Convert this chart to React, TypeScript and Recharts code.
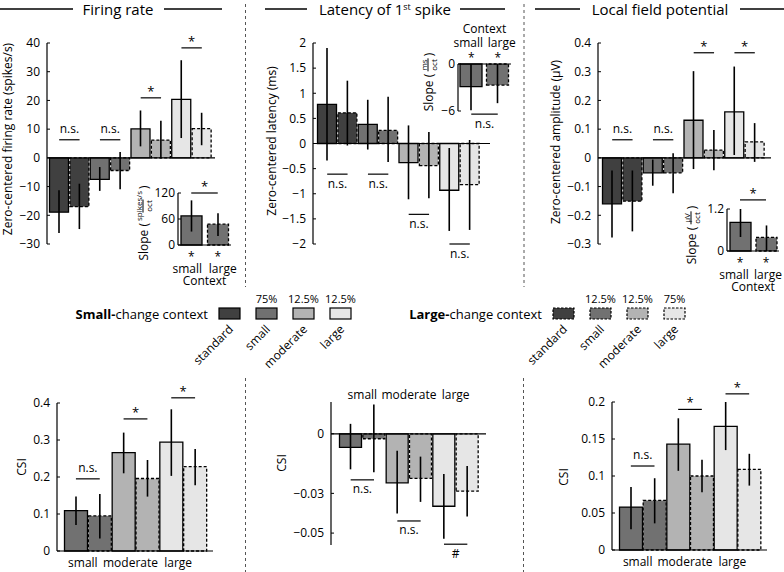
import React from 'react';
import { BarChart, Bar, XAxis, YAxis, ErrorBar, Cell, ReferenceLine } from 'recharts';

// conditions and colours
const conditions = ['standard', 'small', 'moderate', 'large'];
const deviants = ['small', 'moderate', 'large'];
const contexts = ['small', 'large'];
const fills = ['#404040', '#717171', '#b3b3b3', '#e6e6e6'];
const smallPct = ['', '75%', '12.5%', '12.5%'];
const largePct = ['', '12.5%', '12.5%', '75%'];

// firing rate (spikes/s)
const frSmall = [-18.9, -7.5, 10.1, 20.4];
const frSmallLo = [-26.2, -11.5, 4.0, 6.9];
const frSmallHi = [-11.3, -3.2, 16.5, 34.0];
const frLarge = [-17.0, -4.4, 6.2, 10.2];
const frLargeLo = [-24.8, -10.9, -0.2, 4.4];
const frLargeHi = [-9.0, 2.0, 12.9, 15.7];
const frTicks = [-30, -20, -10, 0, 10, 20, 30, 40];

// latency of 1st spike (ms)
const latSmall = [0.78, 0.38, -0.38, -0.93];
const latSmallLo = [-0.34, -0.12, -1.11, -1.74];
const latSmallHi = [1.9, 0.87, 0.36, -0.09];
const latLarge = [0.61, 0.26, -0.44, -0.82];
const latLargeLo = [-0.04, -0.37, -1.09, -1.72];
const latLargeHi = [1.25, 0.93, 0.23, 0.07];
const latTicks = [-2, -1.5, -1, -0.5, 0, 0.5, 1, 1.5, 2];

// local field potential (uV)
const lfpSmall = [-0.16, -0.052, 0.131, 0.16];
const lfpSmallLo = [-0.277, -0.097, -0.039, 0.01];
const lfpSmallHi = [-0.044, -0.006, 0.302, 0.318];
const lfpLarge = [-0.151, -0.052, 0.027, 0.056];
const lfpLargeLo = [-0.256, -0.123, -0.043, -0.014];
const lfpLargeHi = [-0.044, 0.016, 0.097, 0.121];
const lfpTicks = [-0.3, -0.2, -0.1, 0, 0.1, 0.2, 0.3, 0.4];

// slopes (small, large context)
const frSlope = [67, 48];
const frSlopeLo = [31, 21];
const frSlopeHi = [103, 73];
const latSlope = [-2.9, -2.7];
const latSlopeLo = [-5.9, -5.0];
const latSlopeHi = [0, 0];
const lfpSlope = [0.82, 0.39];
const lfpSlopeLo = [0.4, 0];
const lfpSlopeHi = [1.2, 0.73];

// CSI
const csiFrSmall = [0.109, 0.266, 0.294];
const csiFrSmallLo = [0.07, 0.21, 0.203];
const csiFrSmallHi = [0.147, 0.32, 0.383];
const csiFrLarge = [0.095, 0.196, 0.228];
const csiFrLargeLo = [0.034, 0.147, 0.178];
const csiFrLargeHi = [0.154, 0.246, 0.276];
const csiLatSmall = [-0.0068, -0.0247, -0.0365];
const csiLatSmallLo = [-0.0179, -0.0402, -0.0529];
const csiLatSmallHi = [0.005, -0.0086, -0.0203];
const csiLatLarge = [-0.0025, -0.0225, -0.0289];
const csiLatLargeLo = [-0.0194, -0.0343, -0.0416];
const csiLatLargeHi = [0.0147, -0.0115, -0.0162];
const csiLfpSmall = [0.058, 0.143, 0.167];
const csiLfpSmallLo = [0.028, 0.107, 0.135];
const csiLfpSmallHi = [0.085, 0.178, 0.2];
const csiLfpLarge = [0.067, 0.1, 0.109];
const csiLfpLargeLo = [0.036, 0.078, 0.087];
const csiLfpLargeHi = [0.097, 0.122, 0.13];
const csiLatTicks = [-0.05, -0.03, 0];

// significance marks: group index, level, text
type Sig = { g: number; y: number; t: string; below?: boolean };
const frSig: Sig[] = [{ g: 0, y: 6.3, t: 'n.s.' }, { g: 1, y: 6.3, t: 'n.s.' }, { g: 2, y: 20.9, t: '*' }, { g: 3, y: 38.3, t: '*' }];
const latSig: Sig[] = [{ g: 0, y: -0.61, t: 'n.s.', below: true }, { g: 1, y: -0.61, t: 'n.s.', below: true }, { g: 2, y: -1.41, t: 'n.s.', below: true }, { g: 3, y: -2.0, t: 'n.s.', below: true }];
const lfpSig: Sig[] = [{ g: 0, y: 0.063, t: 'n.s.' }, { g: 1, y: 0.063, t: 'n.s.' }, { g: 2, y: 0.366, t: '*' }, { g: 3, y: 0.366, t: '*' }];
const csiFrSig: Sig[] = [{ g: 0, y: 0.195, t: 'n.s.' }, { g: 1, y: 0.357, t: '*' }, { g: 2, y: 0.414, t: '*' }];
const csiLatSig: Sig[] = [{ g: 0, y: -0.0232, t: 'n.s.', below: true }, { g: 1, y: -0.0439, t: 'n.s.', below: true }, { g: 2, y: -0.0556, t: '#', below: true }];
const csiLfpSig: Sig[] = [{ g: 0, y: 0.1135, t: 'n.s.' }, { g: 1, y: 0.19, t: '*' }, { g: 2, y: 0.211, t: '*' }];
const frSlopeSig: Sig = { g: 0, y: 120, t: '*' };
const latSlopeSig: Sig = { g: 0, y: -6.4, t: 'n.s.', below: true };
const lfpSlopeSig: Sig = { g: 0, y: 1.46, t: '*' };

const minus = (v: number) => (v < 0 ? '\u2212' + Math.abs(v) : String(v));

// one row per bar: small-change context then large-change context for each condition
const barRows = (names: string[], sv: number[], slo: number[], shi: number[], lv: number[], llo: number[], lhi: number[]) =>
  names.flatMap((name, i) => [
    { name: name + '|small', group: name, v: sv[i], err: [sv[i] - slo[i], shi[i] - sv[i]] },
    { name: name + '|large', group: name, v: lv[i], err: [lv[i] - llo[i], lhi[i] - lv[i]] },
  ]);

const slopeRows = (v: number[], lo: number[], hi: number[]) =>
  contexts.map((name, i) => ({ name, v: v[i], err: [v[i] - lo[i], hi[i] - v[i]] }));

const sigLabel = (s: Sig) => ({
  value: s.t,
  position: s.below ? 'bottom' : 'top',
  offset: s.t === '*' ? 2 : s.below ? 5 : 7,
  fill: '#000',
  fontSize: s.t === '*' ? 13 : 12,
});

const AX = { stroke: '#000', strokeWidth: 1.2 };

function GroupTick({ x, y, payload, index, half, dx, top }: any) {
  if (index % 2) return <g />;
  const label = String(payload.value).split('|')[0];
  return (
    <text x={x + half + dx} y={y} dy={top ? 0 : '0.71em'} textAnchor="middle" fontSize={12} fill="#000">
      {label}
    </text>
  );
}

function GroupPanel({ rows, colors, domain, ticks, sig, left, top, width, height, margin, pad, axis, dx = 0 }: any) {
  const plotW = width - margin.left - margin.right - 40;
  const band = (plotW - pad[0] - pad[1]) / rows.length;
  return (
    <div style={{ position: 'absolute', left, top }}>
      <BarChart width={width} height={height} data={rows} margin={margin} barCategoryGap={0.5}>
        <XAxis
          xAxisId="c"
          dataKey="name"
          hide={!axis}
          orientation={axis === 'top' ? 'top' : 'bottom'}
          height={20}
          padding={{ left: pad[0], right: pad[1] }}
          axisLine={axis === 'bottom' ? AX : false}
          tickLine={false}
          tickSize={0}
          tickMargin={axis === 'top' ? 3 : 7}
          tick={(p: any) => <GroupTick {...p} half={band / 2} dx={dx} top={axis === 'top'} />}
          interval={0}
        />
        <YAxis
          type="number"
          domain={domain}
          ticks={ticks}
          interval={0}
          width={40}
          axisLine={AX}
          tickLine={{ stroke: '#000' }}
          tickSize={-3}
          tickMargin={10}
          tick={{ fill: '#000', fontSize: 12 }}
          tickFormatter={minus}
        />
        {axis !== 'bottom' && <ReferenceLine xAxisId="c" y={0} stroke="#000" strokeWidth={1.2} />}
        <Bar xAxisId="c" dataKey="v" stroke="#000" strokeWidth={1.3} isAnimationActive={false}>
          {rows.map((r: any, i: number) => (
            <Cell key={r.name} fill={colors[Math.floor(i / 2)]} strokeDasharray={i % 2 ? '3 2' : undefined} />
          ))}
          <ErrorBar dataKey="err" width={0} stroke="#000" strokeWidth={1.6} direction="y" />
        </Bar>
        {sig.map((s: Sig, i: number) => (
          <ReferenceLine
            key={'sig' + i}
            xAxisId="c"
            segment={[{ x: rows[2 * s.g].name, y: s.y }, { x: rows[2 * s.g + 1].name, y: s.y }]}
            stroke="#000"
            strokeWidth={1.2}
            ifOverflow="visible"
            label={sigLabel(s) as any}
          />
        ))}
      </BarChart>
    </div>
  );
}

function InsetTick({ x, y, payload, index, top, spread }: any) {
  const tx = x + (index === 0 ? -spread[0] : spread[1]);
  return (
    <g>
      <text x={x} y={top ? y - 2 : y + 16} textAnchor="middle" fontSize={12} fill="#000">*</text>
      <text x={tx} y={top ? y - 17 : y + 28} textAnchor="middle" fontSize={12} fill="#000">{payload.value}</text>
    </g>
  );
}

function SlopeInset({ rows, domain, ticks, sig, left, top, width, height, margin, barSize, xTop, spread }: any) {
  return (
    <div style={{ position: 'absolute', left, top }}>
      <BarChart width={width} height={height} data={rows} margin={margin}>
        <XAxis
          xAxisId="c"
          dataKey="name"
          orientation={xTop ? 'top' : 'bottom'}
          height={40}
          axisLine={AX}
          tickLine={false}
          tickSize={0}
          tickMargin={0}
          interval={0}
          tick={(p: any) => <InsetTick {...p} top={xTop} spread={spread} />}
          label={{ value: 'Context', position: xTop ? 'insideTop' : 'insideBottom', offset: 0, fill: '#000', fontSize: 12 }}
        />
        <YAxis
          type="number"
          domain={domain}
          ticks={ticks}
          interval={0}
          width={24}
          axisLine={AX}
          tickLine={{ stroke: '#000' }}
          tickSize={-3}
          tickMargin={6}
          tick={{ fill: '#000', fontSize: 12 }}
          tickFormatter={minus}
        />
        <Bar xAxisId="c" dataKey="v" barSize={barSize} stroke="#000" strokeWidth={1.3} isAnimationActive={false}>
          {rows.map((r: any, i: number) => (
            <Cell key={r.name} fill={fills[1]} strokeDasharray={i === 1 ? '3 2' : undefined} />
          ))}
          <ErrorBar dataKey="err" width={0} stroke="#000" strokeWidth={1.6} direction="y" />
        </Bar>
        <ReferenceLine
          xAxisId="c"
          segment={[{ x: contexts[0], y: sig.y }, { x: contexts[1], y: sig.y }]}
          stroke="#000"
          strokeWidth={1.2}
          ifOverflow="visible"
          label={sigLabel(sig) as any}
        />
      </BarChart>
    </div>
  );
}

function SlopeLabel({ x, y, num }: any) {
  return (
    <div
      style={{
        position: 'absolute',
        left: x,
        top: y,
        transform: 'translate(-50%, -50%) rotate(-90deg)',
        whiteSpace: 'nowrap',
        fontSize: 12,
        display: 'flex',
        alignItems: 'center',
      }}
    >
      <span>Slope (</span>
      <span style={{ display: 'inline-flex', flexDirection: 'column', alignItems: 'center', fontSize: 8, lineHeight: '9px', margin: '0 2px' }}>
        <span>{num}</span>
        <span style={{ borderTop: '1px solid #000', padding: '0 1px' }}>oct</span>
      </span>
      <span>)</span>
    </div>
  );
}

const yLabels = [
  { text: 'Zero-centered firing rate (spikes/s)', x: 7, y: 139 },
  { text: 'Zero-centered latency (ms)', x: 271, y: 141 },
  { text: 'Zero-centered amplitude (\u00b5V)', x: 555, y: 142 },
  { text: 'CSI', x: 21, y: 467 },
  { text: 'CSI', x: 281, y: 463 },
  { text: 'CSI', x: 563, y: 477 },
];

function Decorations() {
  const dash = { stroke: '#555', strokeWidth: 1, strokeDasharray: '3 3' };
  const rule = { stroke: '#000', strokeWidth: 1.3 };
  return (
    <svg width={784} height={572} style={{ position: 'absolute', left: 0, top: 0 }}>
      <line x1={245.5} y1={4} x2={245.5} y2={287} {...dash} />
      <line x1={524} y1={4} x2={524} y2={287} {...dash} />
      <line x1={245.5} y1={378} x2={245.5} y2={572} {...dash} />
      <line x1={523.5} y1={378} x2={523.5} y2={572} {...dash} />

      <line x1={0} y1={9} x2={73} y2={9} {...rule} />
      <text x={118} y={14.5} textAnchor="middle" fontSize={15}>Firing rate</text>
      <line x1={164} y1={9} x2={222} y2={9} {...rule} />
      <line x1={265} y1={9} x2={307} y2={9} {...rule} />
      <text x={385} y={14.5} textAnchor="middle" fontSize={15}>
        Latency of 1<tspan dy={-5} fontSize={9}>st</tspan><tspan dy={5}> spike</tspan>
      </text>
      <line x1={460} y1={9} x2={505} y2={9} {...rule} />
      <line x1={535} y1={9} x2={580} y2={9} {...rule} />
      <text x={660} y={14.5} textAnchor="middle" fontSize={15}>Local field potential</text>
      <line x1={740} y1={9} x2={784} y2={9} {...rule} />

      {yLabels.map((l, i) => (
        <text key={i} x={l.x} y={l.y} transform={`rotate(-90 ${l.x} ${l.y})`} textAnchor="middle" dominantBaseline="central" fontSize={12}>
          {l.text}
        </text>
      ))}

      {[0, 1].map((k) => {
        const x0 = k === 0 ? 219 : 553;
        const pct = k === 0 ? smallPct : largePct;
        return (
          <g key={k}>
            <text x={x0 - 11} y={318.5} textAnchor="end" fontSize={13}>
              <tspan fontWeight="bold">{k === 0 ? 'Small-' : 'Large-'}</tspan>change context
            </text>
            {conditions.map((c, i) => {
              const bx = x0 + i * 37;
              return (
                <g key={c}>
                  <rect x={bx} y={308} width={21} height={11} fill={fills[i]} stroke="#000" strokeWidth={1.2} strokeDasharray={k ? '2.5 1.5' : undefined} />
                  {pct[i] && (
                    <text x={bx + 10.5} y={303} textAnchor="middle" fontSize={11}>{pct[i]}</text>
                  )}
                  <text x={bx + 15} y={330} transform={`rotate(-45 ${bx + 15} 330)`} textAnchor="end" fontSize={12}>{c}</text>
                </g>
              );
            })}
          </g>
        );
      })}
    </svg>
  );
}

export default function App() {
  return (
    <div style={{ position: 'absolute', left: 0, top: 0, width: 784, height: 572, background: '#fff', fontFamily: "'Open Sans', sans-serif", color: '#000' }}>
      <Decorations />
      <GroupPanel
        rows={barRows(conditions, frSmall, frSmallLo, frSmallHi, frLarge, frLargeLo, frLargeHi)}
        colors={fills}
        domain={[-30, 40]}
        ticks={frTicks}
        sig={frSig}
        left={0}
        top={20}
        width={232}
        height={250}
        margin={{ top: 23, right: 17, bottom: 26, left: 7 }}
        pad={[2, 3]}
      />
      <GroupPanel
        rows={barRows(conditions, latSmall, latSmallLo, latSmallHi, latLarge, latLargeLo, latLargeHi)}
        colors={fills}
        domain={[-2, 2]}
        ticks={latTicks}
        sig={latSig}
        left={262}
        top={20}
        width={236}
        height={260}
        margin={{ top: 23, right: 8, bottom: 36, left: 11 }}
        pad={[4, 10]}
      />
      <GroupPanel
        rows={barRows(conditions, lfpSmall, lfpSmallLo, lfpSmallHi, lfpLarge, lfpLargeLo, lfpLargeHi)}
        colors={fills}
        domain={[-0.3, 0.4]}
        ticks={lfpTicks}
        sig={lfpSig}
        left={540}
        top={20}
        width={240}
        height={250}
        margin={{ top: 23, right: 9, bottom: 26, left: 18 }}
        pad={[4, 6]}
      />
      <SlopeInset
        rows={slopeRows(frSlope, frSlopeLo, frSlopeHi)}
        domain={[0, 120]}
        ticks={[0, 60, 120]}
        sig={frSlopeSig}
        left={150}
        top={170}
        width={90}
        height={125}
        margin={{ top: 23, right: 9, bottom: 10, left: 4 }}
        barSize={21}
        spread={[4, 5]}
      />
      <SlopeInset
        rows={slopeRows(latSlope, latSlopeLo, latSlopeHi)}
        domain={[-6, 0]}
        ticks={[-6, 0]}
        sig={latSlopeSig}
        left={420}
        top={20}
        width={100}
        height={115}
        margin={{ top: 4, right: 9, bottom: 24, left: 14 }}
        barSize={22}
        spread={[3, 4]}
        xTop
      />
      <SlopeInset
        rows={slopeRows(lfpSlope, lfpSlopeLo, lfpSlopeHi)}
        domain={[0, 1.2]}
        ticks={[0, 1.2]}
        sig={lfpSlopeSig}
        left={690}
        top={180}
        width={94}
        height={115}
        margin={{ top: 29, right: 5, bottom: 4, left: 13 }}
        barSize={21}
        spread={[6, 2]}
      />
      <SlopeLabel x={143} y={223} num="spikes/s" />
      <SlopeLabel x={428} y={82} num="ms" />
      <SlopeLabel x={691} y={235} num={'\u00b5V'} />
      <GroupPanel
        rows={barRows(deviants, csiFrSmall, csiFrSmallLo, csiFrSmallHi, csiFrLarge, csiFrLargeLo, csiFrLargeHi)}
        colors={fills.slice(1)}
        domain={[0, 0.4]}
        ticks={[0, 0.1, 0.2, 0.3, 0.4]}
        sig={csiFrSig}
        left={0}
        top={370}
        width={230}
        height={202}
        margin={{ top: 33, right: 17, bottom: 1, left: 17 }}
        pad={[7, 6]}
        axis="bottom"
        dx={-5}
      />
      <GroupPanel
        rows={barRows(deviants, csiLatSmall, csiLatSmallLo, csiLatSmallHi, csiLatLarge, csiLatLargeLo, csiLatLargeHi)}
        colors={fills.slice(1)}
        domain={[-0.056, 0.016]}
        ticks={csiLatTicks}
        sig={csiLatSig}
        left={262}
        top={370}
        width={236}
        height={202}
        margin={{ top: 12, right: 12, bottom: 27, left: 29 }}
        pad={[8, 7]}
        axis="top"
      />
      <GroupPanel
        rows={barRows(deviants, csiLfpSmall, csiLfpSmallLo, csiLfpSmallHi, csiLfpLarge, csiLfpLargeLo, csiLfpLargeHi)}
        colors={fills.slice(1)}
        domain={[0, 0.2]}
        ticks={[0, 0.05, 0.1, 0.15, 0.2]}
        sig={csiLfpSig}
        left={540}
        top={370}
        width={240}
        height={202}
        margin={{ top: 32, right: 13, bottom: 2, left: 32 }}
        pad={[7, 6]}
        axis="bottom"
        dx={-5}
      />
    </div>
  );
}
